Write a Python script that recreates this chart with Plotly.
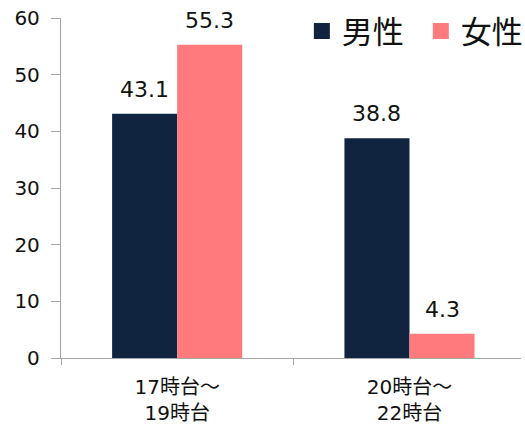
import plotly.graph_objects as go

# 時間帯別・男女別の割合 (%)
categories = ["17時台～<br>19時台", "20時台～<br>22時台"]
male = [43.1, 38.8]
female = [55.3, 4.3]
series_names = ["男性", "女性"]
y_ticks = [0, 10, 20, 30, 40, 50, 60]

NAVY = "#10233f"
PINK = "#ff7a7c"
FONT = "DejaVu Sans, Noto Sans CJK JP"
AXIS = "#a6a6a6"
BARGAP = 0.44

fig = go.Figure()
for name, vals, color in [(series_names[0], male, NAVY), (series_names[1], female, PINK)]:
    fig.add_trace(go.Bar(
        x=categories, y=vals, name=name, showlegend=False,
        marker=dict(color=color, line=dict(width=0)),
    ))
    # larger square legend swatch
    fig.add_trace(go.Scatter(
        x=[None], y=[None], mode="markers", name=name,
        marker=dict(symbol="square", size=17, color=color),
    ))

# value labels above each bar, centred on the bar within its group
bar_w = (1 - BARGAP) / 2
for i, vals in enumerate([male, female]):
    dx = (i - 0.5) * bar_w
    for j, v in enumerate(vals):
        fig.add_annotation(
            x=j + dx, y=v, xref="x", yref="y",
            text=f"{v:.1f}", showarrow=False,
            yanchor="bottom", yshift=10,
            font=dict(family=FONT, size=22, color="#111111"),
        )

fig.update_layout(
    width=525, height=431,
    margin=dict(l=61, r=4, t=18, b=73, autoexpand=False),
    paper_bgcolor="white", plot_bgcolor="white",
    barmode="group", bargap=BARGAP, bargroupgap=0,
    font=dict(family=FONT, color="#111111"),
    legend=dict(
        orientation="h", x=1.041, xanchor="right", y=1.04, yanchor="top",
        font=dict(family=FONT, size=31, color="#111111"),
        bgcolor="rgba(0,0,0,0)", itemwidth=30,
        entrywidth=74,
    ),
    showlegend=True,
)
fig.update_xaxes(
    type="category", showline=True, linecolor=AXIS, linewidth=1.3,
    ticks="outside", tickson="boundaries", ticklen=6, tickcolor=AXIS,
    tickfont=dict(family=FONT, size=20, color="#111111"),
    ticklabelstandoff=11,
    showgrid=False, range=[-0.5, 1.48],
)
fig.update_yaxes(
    range=[0, 60], tickvals=y_ticks, showline=True, linecolor=AXIS, linewidth=1.3,
    ticks="outside", ticklen=9, tickcolor=AXIS, showgrid=False, zeroline=False,
    tickfont=dict(family=FONT, size=20, color="#111111"),
    ticklabelstandoff=7,
)

fig.write_html("out.html")
